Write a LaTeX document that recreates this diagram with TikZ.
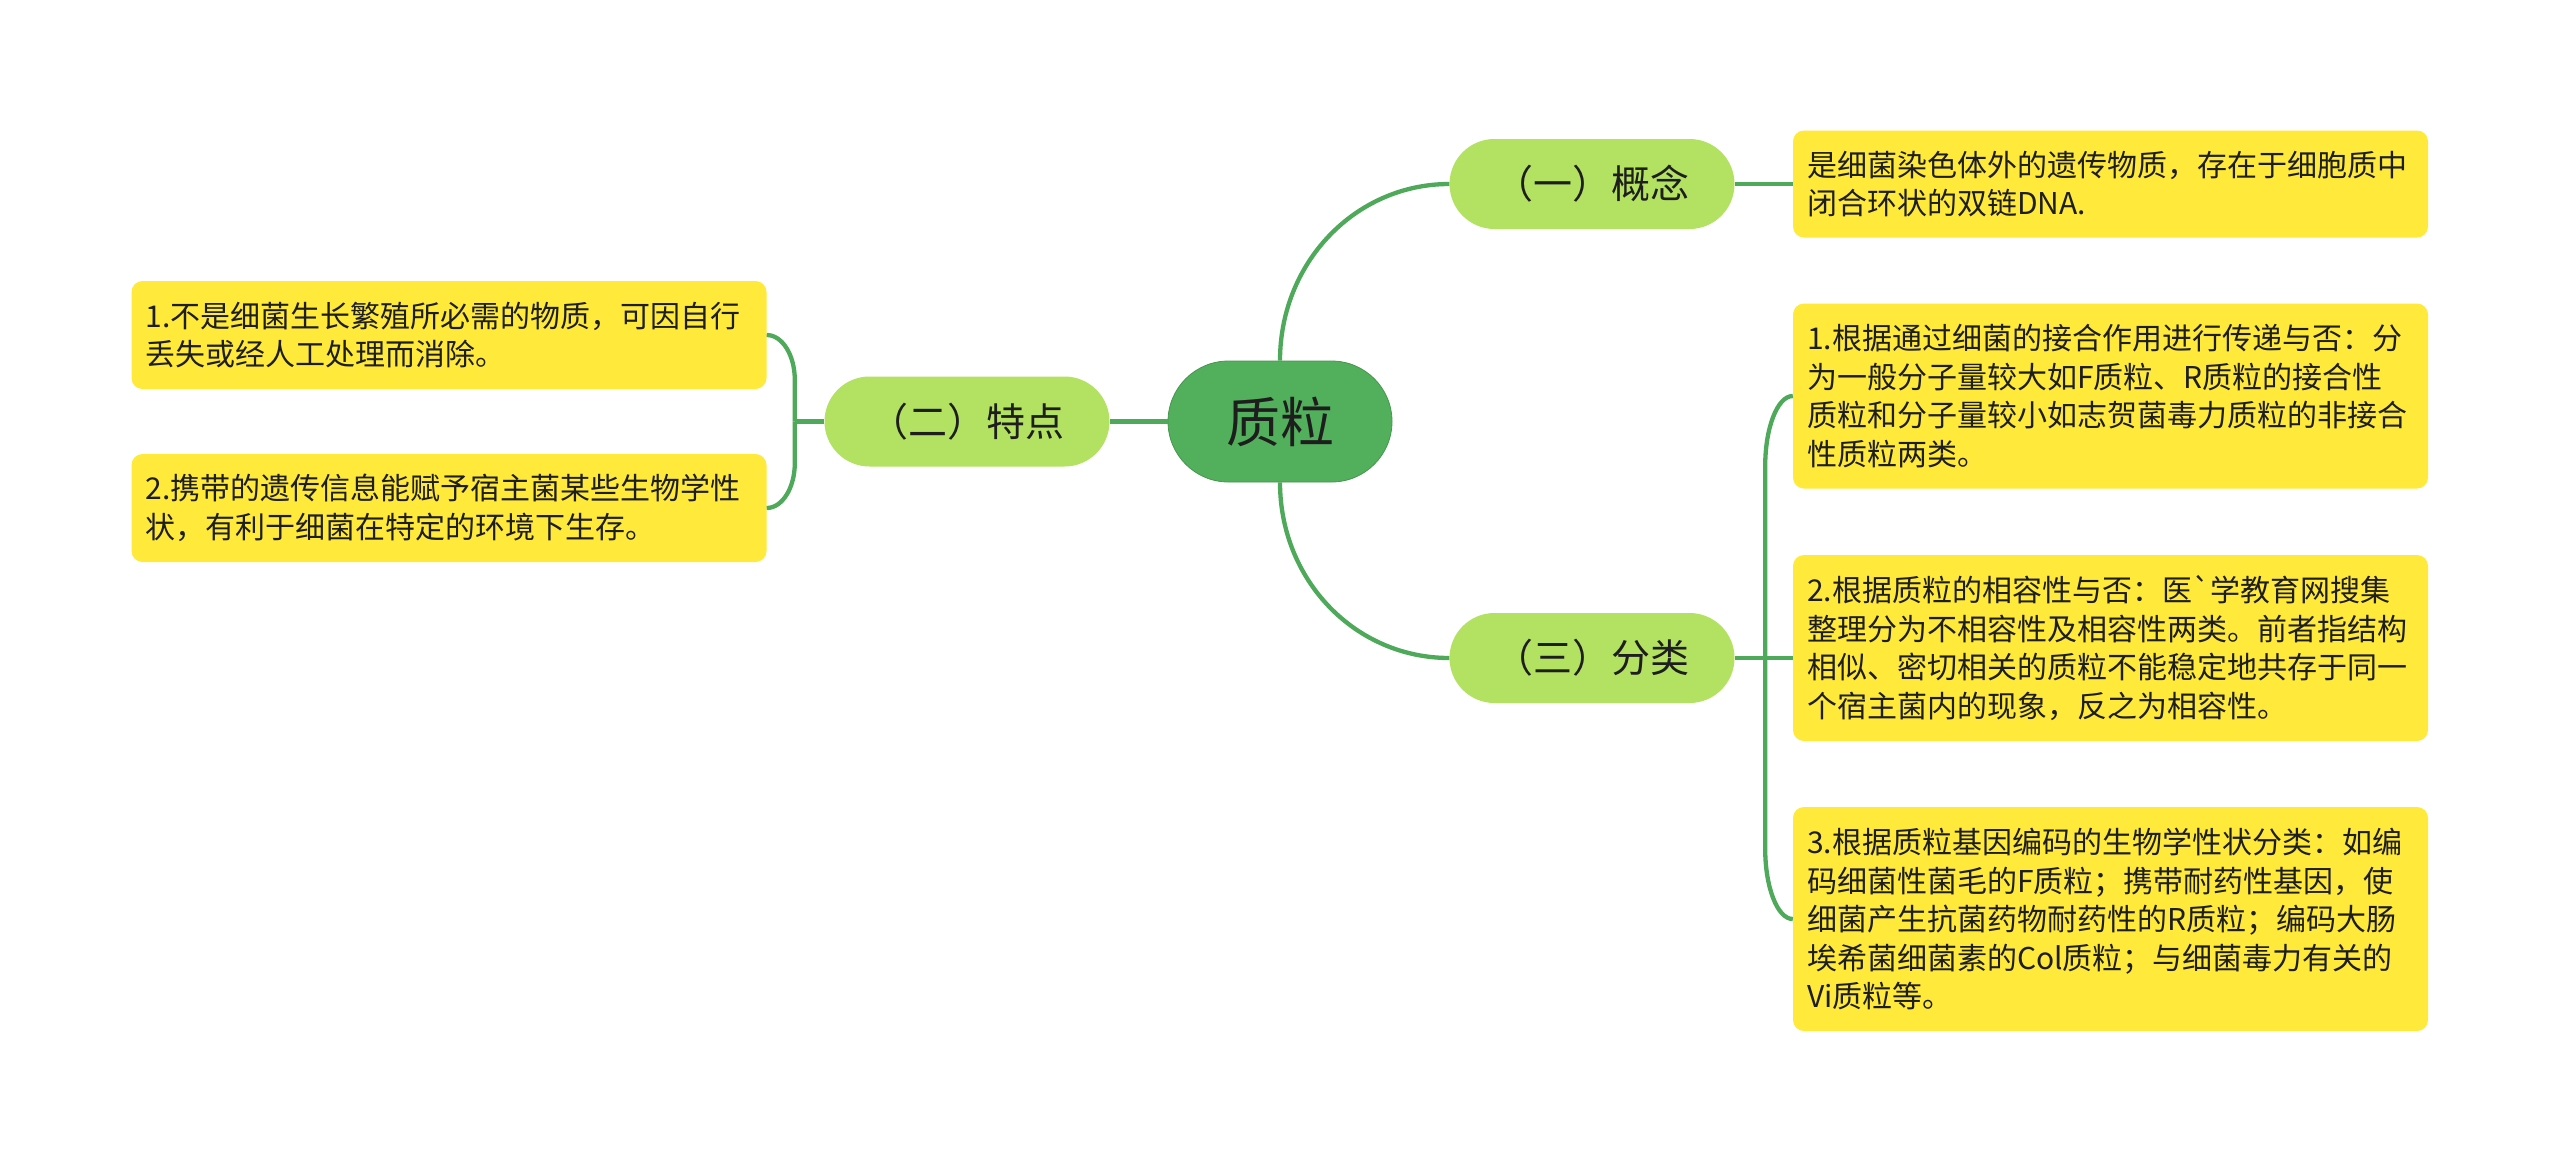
\documentclass[tikz,border=0pt]{standalone}
\usepackage{fontspec}
\setmainfont{Noto Sans CJK SC}[Ligatures=TeXOff]
\usetikzlibrary{calc}
\definecolor{rootg}{HTML}{52B05C}
\definecolor{brg}{HTML}{B3E262}
\definecolor{leafy}{HTML}{FFEA3B}
\definecolor{lineg}{HTML}{4FA95A}
\definecolor{txt}{HTML}{1E1E1E}
\tikzset{
  rootnode/.style={fill=rootg, draw=rootg!85!black, line width=0.8pt, rounded corners=60.5pt,
    minimum width=224pt, minimum height=121pt, inner sep=0pt,
    font=\fontsize{54}{60}\selectfont, text=txt},
  branchnode/.style={fill=brg, rounded corners=45pt, minimum width=285pt, minimum height=90pt,
    inner sep=0pt, font=\fontsize{39}{45}\selectfont, text=txt},
  leafnode/.style={fill=leafy, rounded corners=11pt, text width=607pt, inner xsep=14pt,
    inner ysep=0pt, align=left, font=\fontsize{30}{38.5}\selectfont, text=txt},
  conn/.style={draw=lineg, line width=4.3pt},
}
\begin{document}
\begin{tikzpicture}[x=1pt,y=-1pt]
\fill[white] (0,0) rectangle (2560,1163);
\useasboundingbox (0,0) rectangle (2560,1163);

\node[rootnode] (root) at (1280,421.5) {质粒};
\node[branchnode] (gn) at (1592,184) {（一）概念};
\node[branchnode] (td) at (967,421.5) {（二）特点};
\node[branchnode] (fl) at (1592,658) {（三）分类};

\node[leafnode, minimum height=107pt] (gnl) at (2110.5,184)
  {是细菌染色体外的遗传物质，存在于细胞质中\\闭合环状的双链DNA.};
\node[leafnode, minimum height=108pt] (td1) at (449,335)
  {1.不是细菌生长繁殖所必需的物质，可因自行\\丢失或经人工处理而消除。};
\node[leafnode, minimum height=108pt] (td2) at (449,508)
  {2.携带的遗传信息能赋予宿主菌某些生物学性\\状，有利于细菌在特定的环境下生存。};
\node[leafnode, minimum height=185pt] (fl1) at (2110.5,396)
  {1.根据通过细菌的接合作用进行传递与否：分\\为一般分子量较大如F质粒、R质粒的接合性\\质粒和分子量较小如志贺菌毒力质粒的非接合\\性质粒两类。};
\node[leafnode, minimum height=186pt] (fl2) at (2110.5,648)
  {2.根据质粒的相容性与否：医`学教育网搜集\\整理分为不相容性及相容性两类。前者指结构\\相似、密切相关的质粒不能稳定地共存于同一\\个宿主菌内的现象，反之为相容性。};
\node[leafnode, minimum height=224pt] (fl3) at (2110.5,919)
  {3.根据质粒基因编码的生物学性状分类：如编\\码细菌性菌毛的F质粒；携带耐药性基因，使\\细菌产生抗菌药物耐药性的R质粒；编码大肠\\埃希菌细菌素的Col质粒；与细菌毒力有关的\\Vi质粒等。};

% root to branches
\draw[conn] (root.north) .. controls +(0,-98) and +(-94,0) .. (gn.west);
\draw[conn] (root.south) .. controls +(0,98) and +(-94,0) .. (fl.west);
\draw[conn] (root.west) -- (td.east);
\draw[conn] (gn.east) -- (gnl.west);

% left bracket
\coordinate (tdj) at ($(td.west)+(-29.5,0)$);
\draw[conn] (td.west) -- (tdj);
\draw[conn] (tdj) -- ($(tdj |- td1.east)+(0,45)$) .. controls +(0,-25) and +(15.5,0) .. (td1.east);
\draw[conn] (tdj) -- ($(tdj |- td2.east)+(0,-45)$) .. controls +(0,25) and +(15.5,0) .. (td2.east);

% right bracket
\coordinate (flj) at ($(fl.east)+(30.5,0)$);
\draw[conn] (fl.east) -- (fl.east -| fl2.west);
\draw[conn] (flj) -- ($(flj |- fl1.west)+(0,70)$) .. controls +(0,-38) and +(-15.5,0) .. (fl1.west);
\draw[conn] (flj) -- ($(flj |- fl3.west)+(0,-70)$) .. controls +(0,38) and +(-15.5,0) .. (fl3.west);
\end{tikzpicture}
\end{document}
